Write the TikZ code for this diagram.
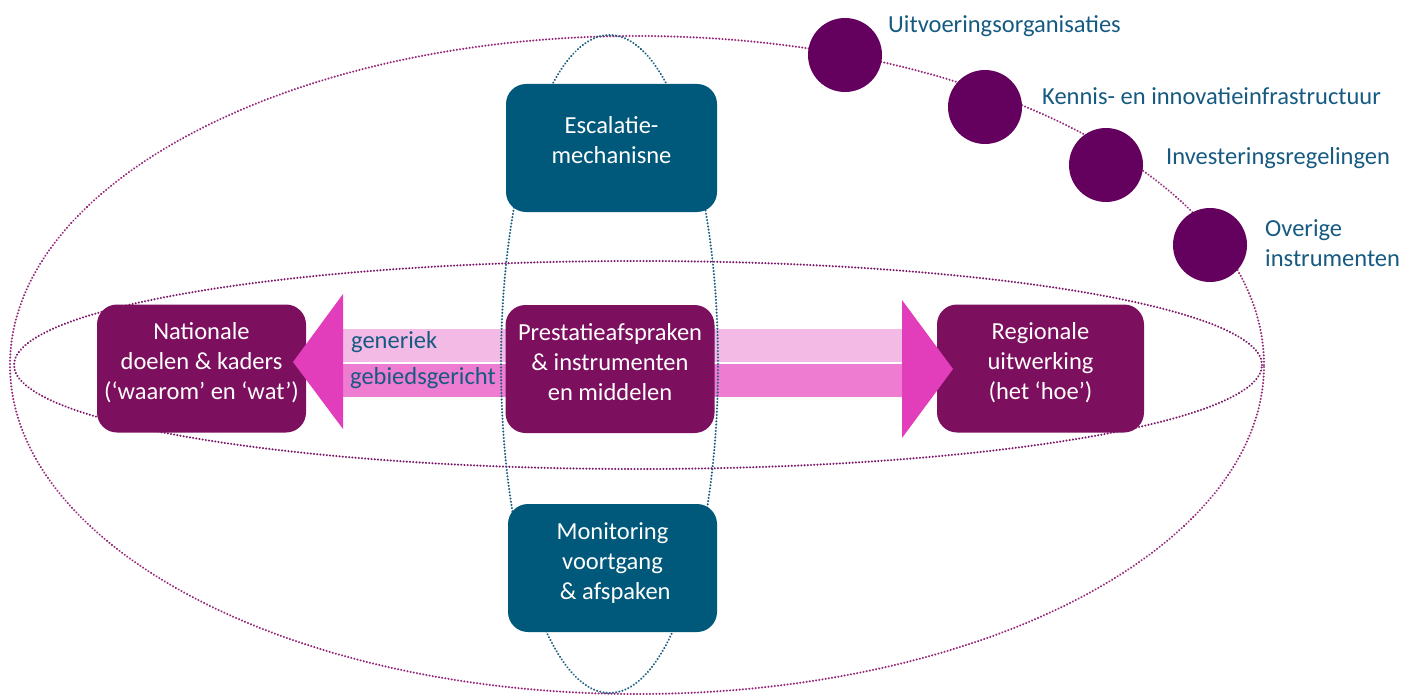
\documentclass[tikz,border=0pt]{standalone}
\usepackage{fontspec}
\setmainfont{Carlito}
\definecolor{boxpurple}{RGB}{125,15,95}
\definecolor{boxteal}{RGB}{0,88,122}
\definecolor{circpurple}{RGB}{100,0,94}
\definecolor{labelblue}{RGB}{22,90,130}
\definecolor{headmag}{RGB}{226,61,186}
\definecolor{bandlight}{RGB}{244,186,230}
\definecolor{bandmid}{RGB}{238,125,210}
\definecolor{ellpurple}{RGB}{150,40,120}
\definecolor{ellinner}{RGB}{125,25,105}
\definecolor{ellteal}{RGB}{30,95,128}
\newcommand{\dfont}{\fontsize{24.5pt}{30pt}\selectfont}
\newcommand{\liftbox}[1]{\raisebox{5pt}[\height][\depth]{\begin{tabular}{@{}c@{}}#1\end{tabular}}}
\tikzset{
  boxbase/.style={rounded corners=20pt, text=white, align=center, font=\dfont,
    minimum width=209pt, minimum height=128pt, inner sep=0pt},
  pbox/.style={boxbase, fill=boxpurple},
  tbox/.style={boxbase, fill=boxteal},
  bubble/.style={circle, fill=circpurple, minimum size=74pt, inner sep=0pt},
  lbl/.style={anchor=west, text=labelblue, font=\dfont, align=left, inner sep=0pt},
  dotline/.style={line width=2.3pt, dash pattern=on 0.01pt off 3.2pt, line cap=round},
}
\begin{document}
\begin{tikzpicture}[x=1pt,y=-1pt]
\useasboundingbox (0,0) rectangle (1402,695);
% outer and horizontal ellipses
\draw[dotline, ellpurple] (637,365) ellipse [x radius=627pt, y radius=329pt];
\draw[dotline, ellinner] (638,365) ellipse [x radius=624pt, y radius=104pt];
% side boxes
\node[pbox] (nat) at (201.5,368.5) {\liftbox{Nationale\\doelen \& kaders\\(‘waarom’ en ‘wat’)}};
\node[pbox, minimum width=207pt] (reg) at (1040.5,368.5) {\liftbox{Regionale\\uitwerking\\(het ‘hoe’)}};
% arrows
\coordinate (ltip) at (293,362);
\coordinate (rtip) at (953,369);
\fill[bandlight] (343,329) rectangle (506,362);
\fill[bandmid] (343,364) rectangle (506,397);
\fill[headmag] (343,294) -- (ltip) -- (343,429) -- cycle;
\fill[bandlight] (714,329) rectangle (902,362);
\fill[bandmid] (714,364) rectangle (902,397);
\fill[headmag] (902,300) -- (rtip) -- (902,438) -- cycle;
\node[lbl] (gen) at (351,342) {generiek};
\node[lbl] (geb) at (350,378) {gebiedsgericht};
% vertical ellipse
\draw[dotline, ellteal] (609.5,364) ellipse [x radius=108.5pt, y radius=329pt];
% central boxes
\node[tbox, minimum width=211pt] (esc) at (611.5,148) {\liftbox{Escalatie-\\mechanisne}};
\node[pbox] (pre) at (610,369) {\liftbox{Prestatieafspraken\\\& instrumenten\\en middelen}};
\node[tbox] (mon) at (612.5,568) {\liftbox{Monitoring\\voortgang\\\ \& afspaken}};
% bubbles
\node[bubble] (c1) at (845,55) {};
\node[bubble] (c2) at (985,107) {};
\node[bubble] (c3) at (1106,165) {};
\node[bubble] (c4) at (1210,245) {};
\node[lbl] (l1) at (888,26) {Uitvoeringsorganisaties};
\node[lbl] (l2) at (1042,96) {Kennis- en innovatieinfrastructuur};
\node[lbl] (l3) at (1166,158) {Investeringsregelingen};
\node[lbl] (l4) at (1265,243) {Overige\\instrumenten};
\end{tikzpicture}
\end{document}
